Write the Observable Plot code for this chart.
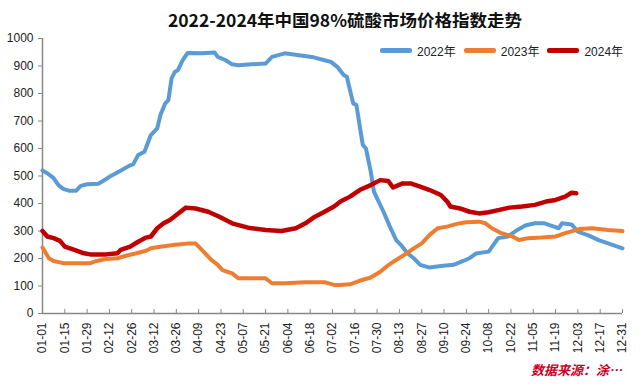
<!DOCTYPE html>
<html><head><meta charset="utf-8">
<script src="https://cdn.jsdelivr.net/npm/d3@7"></script>
<script src="https://cdn.jsdelivr.net/npm/@observablehq/plot@0.6"></script>
<style>
body{margin:0;background:#fff;font-family:"Liberation Sans",Arial,sans-serif;}
#wrap{position:relative;width:640px;height:384px;overflow:hidden;background:#fff;}
#title{position:absolute;top:6px;left:50px;width:590px;text-align:center;font:bold 17.5px "Noto Sans CJK SC",sans-serif;color:#111;line-height:28px;}
#chart{position:absolute;top:28px;left:0;}
#legend{position:absolute;top:42px;left:380px;display:flex;align-items:center;gap:8px;font:12px "Liberation Sans","Noto Sans CJK SC",sans-serif;color:#222;}
#legend .it{display:flex;align-items:center;}
#legend .sw{width:32px;height:4.5px;border-radius:2px;margin-right:5px;}
#source{position:absolute;top:360px;right:18px;font:italic bold 13px "Noto Sans CJK SC",sans-serif;color:#c8001e;}
</style></head><body>
<div id="wrap">
<div id="title">2022-2024年中国98%硫酸市场价格指数走势</div>
<div id="chart"></div>
<div id="legend"></div>
<div id="source">数据来源：涂…</div>
</div>
<script>
const seriesNames = ["2022年", "2023年", "2024年"];
const seriesColors = ["#5B9BD5", "#ED7D31", "#C00000"];

const dates2022 = ["01-01","01-04","01-08","01-11","01-14","01-18","01-22","01-25","01-29","02-05","02-08","02-12","02-19","02-24","02-27","03-02","03-06","03-10","03-14","03-16","03-19","03-21","03-23","03-25","03-27","03-30","04-02","04-11","04-19","04-21","04-26","04-30","05-04","05-12","05-21","05-25","06-02","06-11","06-19","06-27","07-01","07-05","07-09","07-11","07-13","07-15","07-17","07-19","07-21","07-23","07-26","07-28","07-30","08-03","08-07","08-11","08-14","08-18","08-22","08-26","09-01","09-08","09-16","09-22","09-26","09-30","10-08","10-14","10-20","10-26","10-31","11-06","11-12","11-18","11-21","11-23","11-29","12-03","12-10","12-16","12-22","12-31"];
const values2022 = [520,510,492,467,453,446,446,464,470,472,482,497,519,536,543,576,588,649,673,722,764,776,855,878,885,921,947,946,949,933,921,906,903,906,909,933,946,939,933,921,915,897,867,861,812,764,758,685,613,600,516,443,419,370,316,267,249,219,201,177,167,173,177,191,201,218,225,274,280,304,320,328,328,316,310,328,324,298,283,267,255,237];

const dates2023 = ["01-01","01-05","01-08","01-14","01-31","02-04","02-10","02-17","02-23","03-01","03-07","03-10","03-16","03-24","04-03","04-07","04-11","04-17","04-21","04-24","04-30","05-04","05-21","05-25","06-02","06-15","06-27","07-03","07-07","07-13","07-19","07-26","08-01","08-05","08-10","08-16","08-22","08-27","09-01","09-06","09-12","09-18","09-24","10-02","10-06","10-10","10-16","10-23","10-27","11-02","11-10","11-19","11-25","12-04","12-12","12-22","12-31"];
const values2023 = [240,201,191,183,183,191,198,201,211,219,228,237,243,249,255,255,231,195,177,158,146,128,128,110,110,114,114,104,104,106,119,131,152,171,191,213,237,255,286,310,316,326,332,334,328,310,292,280,267,274,276,280,292,307,310,304,300];

const dates2024 = ["01-01","01-04","01-08","01-12","01-15","01-21","01-27","01-31","02-10","02-17","02-19","02-25","03-02","03-07","03-10","03-14","03-18","03-22","03-26","04-01","04-07","04-15","04-22","04-30","05-10","05-21","05-31","06-09","06-15","06-21","06-27","07-03","07-07","07-13","07-19","07-26","08-01","08-06","08-09","08-15","08-20","08-26","09-01","09-08","09-12","09-14","09-20","09-26","10-02","10-08","10-14","10-21","10-29","11-06","11-13","11-19","11-25","11-29","12-02"];
const values2024 = [300,280,274,264,243,231,219,215,215,219,231,243,261,276,280,310,328,340,358,385,382,370,352,328,312,304,300,310,328,352,370,389,407,425,449,467,485,482,458,473,473,461,449,431,407,389,382,370,364,368,376,385,389,395,407,413,425,439,437];

const xTickLabels = ["01-01","01-15","01-29","02-12","02-26","03-12","03-26","04-09","04-23","05-07","05-21","06-04","06-18","07-02","07-16","07-30","08-13","08-27","09-10","09-24","10-08","10-22","11-05","11-19","12-03","12-17","12-31"];
const yTicks = [0,100,200,300,400,500,600,700,800,900,1000];

// common (non-leap) reference year for the month-day axis
const parse = s => d3.utcParse("%Y-%m-%d")("2023-" + s);
const build = (dates, values, name) => dates.map((d, i) => ({date: parse(d), value: values[i], series: name}));
const data = [
  ...build(dates2022, values2022, seriesNames[0]),
  ...build(dates2023, values2023, seriesNames[1]),
  ...build(dates2024, values2024, seriesNames[2])
];
const xTicks = xTickLabels.map(parse);
const xDomain = [xTicks[0], xTicks[xTicks.length - 1]];

const chart = Plot.plot({
  width: 640, height: 356,
  marginTop: 10, marginBottom: 71, marginLeft: 42, marginRight: 18,
  style: {fontFamily: "'Liberation Sans', Arial, sans-serif", fontSize: "12px", color: "#222", background: "#fff"},
  x: {type: "utc", domain: xDomain},
  y: {domain: [0, 1000]},
  color: {domain: seriesNames, range: seriesColors},
  marks: [
    Plot.axisY({ticks: yTicks, tickSize: 4, tickPadding: 5, stroke: "#888", label: null, tickFormat: d => String(d)}),
    Plot.axisX({ticks: xTicks, tickFormat: d3.utcFormat("%m-%d"), tickRotate: -90, tickSize: 0, tickPadding: 9, label: null}),
    Plot.tickX(xTicks.slice(1), {x: d => d, stroke: "#888", strokeWidth: 1, insetTop: 271}),
    Plot.ruleY([0], {stroke: "#888", strokeWidth: 1.5}),
    Plot.ruleX([xDomain[0]], {stroke: "#888", strokeWidth: 1.5}),
    Plot.line(data, {x: "date", y: "value", z: "series", stroke: "series", strokeWidth: d => d.series === seriesNames[2] ? 4.5 : 4, strokeLinejoin: "round", strokeLinecap: "round"})
  ]
});
document.getElementById("chart").appendChild(chart);

const legend = document.getElementById("legend");
seriesNames.forEach((n, i) => {
  const it = document.createElement("div");
  it.className = "it";
  it.innerHTML = `<span class="sw" style="background:${seriesColors[i]}"></span><span>${n}</span>`;
  legend.appendChild(it);
});
</script>
</body></html>
